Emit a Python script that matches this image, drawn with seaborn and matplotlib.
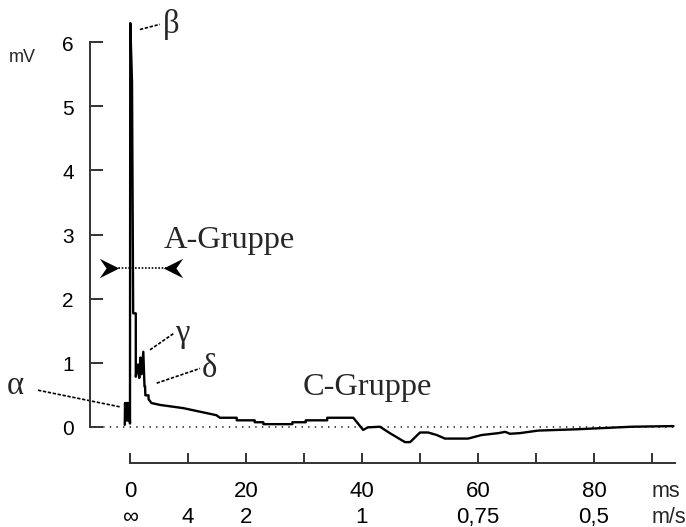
import numpy as np
import matplotlib.pyplot as plt
import matplotlib.path as mpath
import matplotlib.transforms as mtransforms
import seaborn as sns

sns.set_theme(style="white")
plt.rcParams['font.family'] = ['Liberation Sans', 'DejaVu Sans']

# compound action potential trace (time in ms, amplitude in mV)
time_ms = [-0.9, -0.85, -0.78, -0.7, -0.62, -0.55, -0.47, -0.4, -0.32, -0.25, -0.17, -0.1, 0.0,
           0.05, 0.35, 0.55, 1.0, 1.0, 1.4, 1.6, 1.8, 2.0, 2.3, 2.5, 2.6, 2.65, 3.2,
           3.2, 3.7, 5.2, 9.2, 14.9, 15.5, 18.4, 18.4, 21.5, 21.5, 23.0, 23.0, 28.0,
           28.0, 30.3, 30.3, 34.0, 34.0, 38.5, 40.2, 41.0, 43.1, 44.8, 47.4, 48.3,
           50.0, 51.4, 52.9, 54.3, 58.3, 60.6, 63.5, 64.7, 65.5, 67.2, 70.4, 77.0,
           86.5, 93.7]
voltage_mv = [0.03, 0.37, 0.1, 0.37, 0.1, 0.37, 0.1, 0.37, 0.1, 0.37, 0.1, 0.37, 0.05,
              6.30, 5.38, 1.77, 1.77, 0.78, 0.97, 0.76, 1.08, 0.82, 1.17, 0.63, 0.63, 0.49, 0.49,
              0.43, 0.37, 0.34, 0.29, 0.18, 0.14, 0.14, 0.10, 0.10, 0.07, 0.07, 0.04, 0.04,
              0.07, 0.07, 0.10, 0.10, 0.14, 0.14, -0.05, -0.01, 0.0, -0.10, -0.24, -0.24,
              -0.09, -0.09, -0.13, -0.185, -0.185, -0.13, -0.10, -0.08, -0.11, -0.10, -0.06, -0.04,
              0.0, 0.01]

ytick_mv = [0, 1, 2, 3, 4, 5, 6]
xtick_ms = [0, 10, 20, 30, 40, 50, 60, 70, 80, 90]
ms_labels = ["0", "", "20", "", "40", "", "60", "", "80", ""]
speed_labels = ["\u221e", "4", "2", "", "1", "", "0,75", "", "0,5", ""]

fig = plt.figure(figsize=(6.86, 5.27), dpi=100)
ax = fig.add_axes([0, 0, 1, 1])
ax.set_xlim(-22.41, 95.86)
ax.set_ylim(-1.565, 6.66)

# zero line, starting at the y axis
ax.hlines(0, -6.9, 94.3, color='#444444', lw=1.4, ls=(0, (0.7, 2.7)), zorder=1)

sns.lineplot(x=time_ms, y=voltage_mv, sort=False, estimator=None,
             color='black', lw=1.7, ax=ax, zorder=3)
ax.set_xlabel('')
ax.set_ylabel('')

# axes
for s in ['top', 'right']:
    ax.spines[s].set_visible(False)
ax.spines['left'].set_position(('data', -6.9))
ax.spines['left'].set_bounds(0, 6)
ax.spines['bottom'].set_position(('data', -0.562))
ax.spines['bottom'].set_bounds(0, 93.9)
for s in ['left', 'bottom']:
    ax.spines[s].set_color('#333333')
    ax.spines[s].set_linewidth(1.4)

ax.set_yticks(ytick_mv)
ax.set_yticklabels([str(v) for v in ytick_mv])
ax.set_xticks(xtick_ms)
ax.set_xticklabels([a + "\n" + b for a, b in zip(ms_labels, speed_labels)])
ax.tick_params(axis='y', left=True, direction='in', length=9.6, width=1.4,
               pad=11.5, labelsize=15, colors='#333333', labelcolor='black')
ax.tick_params(axis='x', bottom=True, direction='in', length=7.2, width=1.4,
               pad=13.0, labelsize=16, colors='#333333', labelcolor='black')
shift = mtransforms.ScaledTranslation(0, -0.03, fig.dpi_scale_trans)
for lab in ax.get_yticklabels():
    lab.set_verticalalignment('center')
    lab.set_transform(lab.get_transform() + shift)
plt.setp(ax.get_xticklabels(), linespacing=1.3)

ax.annotate("ms\nm/s", xy=(89.97, -0.562), xytext=(0, -13.0), textcoords='offset points',
            ha='left', va='top', fontsize=15.5, linespacing=1.35)
fig.text(22.5 / 686, 1 - 58 / 527, "mV", ha='center', va='center', fontsize=13)

# greek annotations with leader lines
serif = ['Liberation Serif', 'DejaVu Serif']
leader = dict(color='black', lw=1.2, ls=(0, (2, 1)))
ax.plot([1.72, 5.17], [6.20, 6.28], **leader)
ax.text(5.69, 6.27, "\u03b2", family=serif, fontsize=23.5, ha='left', va='center')
ax.plot([3.45, 7.6], [1.20, 1.46], **leader)
ax.text(7.76, 1.45, "\u03b3", family=serif, fontsize=23.5, ha='left', va='center')
ax.plot([4.6, 12.07], [0.68, 0.91], **leader)
ax.text(12.3, 0.90, "\u03b4", family=serif, fontsize=23.5, ha='left', va='center')
ax.plot([-15.86, -1.72], [0.57, 0.31], **leader)
ax.text(-21.2, 0.635, "\u03b1", family=serif, fontsize=23.5, ha='left', va='center')

ax.text(5.86, 2.79, "A-Gruppe", family=serif, fontsize=23.3, ha='left', va='baseline')
ax.text(29.83, 0.495, "C-Gruppe", family=serif, fontsize=23.3, ha='left', va='baseline')

# A-group span arrow
ax.plot([-2.6, 6.4], [2.48, 2.48], color='black', lw=1.2, ls=(0, (1, 1)))
head = mpath.Path([(1, 0), (-1, 1), (-0.3, 0), (-1, -1), (1, 0)],
                  [1, 2, 2, 2, 79])
head_l = mpath.Path([(-1, 0), (1, 1), (0.3, 0), (1, -1), (-1, 0)],
                    [1, 2, 2, 2, 79])
ax.plot([-3.54], [2.48], marker=head, ms=14, color='black', mew=0)
ax.plot([7.41], [2.48], marker=head_l, ms=14, color='black', mew=0)

fig.savefig("out.png", dpi=100)
